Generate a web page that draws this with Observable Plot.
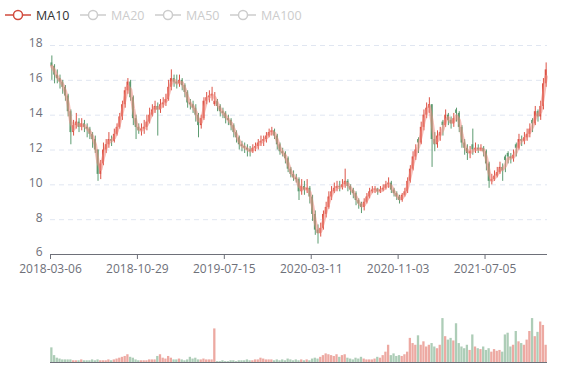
<!DOCTYPE html>
<html><head><meta charset="utf-8">
<script src="https://cdn.jsdelivr.net/npm/d3@7"></script>
<script src="https://cdn.jsdelivr.net/npm/@observablehq/plot@0.6"></script>
<style>
body{margin:0;background:#fff;font-family:"Open Sans",sans-serif;}
#wrap{position:relative;width:577px;height:380px;overflow:hidden;}
#legend{position:absolute;left:0;top:0;width:577px;height:30px;}
.lg{position:absolute;top:7px;height:16px;display:flex;align-items:center;font-size:12.5px;}
.lg svg{margin-right:5px;}
#main{position:absolute;left:0;top:30px;}
#vol{position:absolute;left:0;top:290px;}
</style></head><body>
<div id="wrap">
<div id="legend"></div>
<div id="main"></div>
<div id="vol"></div>
</div>
<script>
// ---- data ----
const seriesNames = ["MA10","MA20","MA50","MA100"];
const tickDates = ["2018-03-06","2018-10-29","2019-07-15","2020-03-11","2020-11-03","2021-07-05"];
const tickIndex = [0,160,320,480,640,800];
const yTicks = [6,8,10,12,14,16,18];

const opens = [17.0,16.8,16.3,16.1,15.9,15.6,15.1,14.2,13.0,13.4,
13.6,13.3,13.5,13.3,13.2,12.9,12.6,12.0,10.6,11.2,
12.0,12.3,12.6,12.5,12.9,13.3,13.9,14.6,15.4,15.9,
15.0,13.8,13.3,13.1,13.2,13.3,13.6,14.0,14.3,14.5,
14.3,14.6,14.7,14.9,15.6,16.1,15.9,15.8,16.0,15.7,
15.3,14.7,14.6,14.4,14.0,13.4,13.8,14.8,15.0,15.1,
14.6,14.8,14.5,14.2,14.1,13.8,13.7,13.4,13.0,12.7,
12.3,12.2,12.1,12.0,11.9,12.1,12.2,12.4,12.5,12.6,
12.8,13.0,13.1,12.8,12.3,11.9,11.8,11.5,10.9,10.6,
10.4,10.3,9.6,9.9,9.7,9.8,9.3,8.3,7.4,7.2,
7.5,8.3,8.7,9.3,9.6,9.8,9.9,9.85,10.0,10.2,
9.9,9.7,9.5,9.1,8.9,8.7,9.0,9.3,9.6,9.7,
9.75,9.6,9.7,9.8,10.0,10.1,9.7,9.5,9.3,9.1,
9.4,9.6,10.2,10.9,11.6,12.6,12.4,13.3,14.0,14.4,
14.6,12.6,12.3,12.8,13.6,13.4,14.0,13.7,13.5,14.3,
14.1,13.3,12.4,12.1,11.8,12.3,12.0,12.1,12.0,12.1,
11.9,11.2,10.2,10.3,10.5,10.7,11.0,11.6,11.8,11.6,
11.5,12.3,12.1,12.6,12.5,12.7,12.9,13.7,13.5,14.2,
13.9,14.5,15.8];

const closes = [16.8,16.3,16.1,15.9,15.6,15.1,14.2,13.0,13.4,13.6,
13.3,13.5,13.3,13.2,12.9,12.6,12.0,10.6,11.2,12.0,
12.3,12.6,12.5,12.9,13.3,13.9,14.6,15.4,15.9,15.0,
13.8,13.3,13.1,13.2,13.3,13.6,14.0,14.3,14.5,14.3,
14.6,14.7,14.9,15.6,16.1,15.9,15.8,16.0,15.7,15.3,
14.7,14.6,14.4,14.0,13.4,13.8,14.8,15.0,15.1,15.2,
14.8,14.5,14.2,14.1,13.8,13.7,13.4,13.0,12.7,12.3,
12.2,12.1,12.0,11.9,12.1,12.2,12.4,12.5,12.6,12.8,
13.0,13.1,12.8,12.3,11.9,11.8,11.5,10.9,10.6,10.4,
10.3,9.6,9.9,9.7,9.8,9.3,8.3,7.4,7.2,7.5,
8.3,8.7,9.3,9.6,9.8,9.9,9.85,10.0,10.2,9.9,
9.7,9.5,9.1,8.9,8.7,9.0,9.3,9.6,9.7,9.75,
9.6,9.7,9.8,10.0,10.1,9.7,9.5,9.3,9.1,9.4,
9.6,10.2,10.9,11.6,12.0,12.4,13.3,14.0,14.4,14.6,
12.6,12.3,12.8,13.0,13.4,14.0,13.7,13.5,13.8,14.1,
13.3,12.4,12.1,11.8,11.9,12.0,12.1,12.0,12.1,11.9,
11.2,10.2,10.3,10.5,10.7,11.0,10.8,11.4,11.6,11.5,
11.7,12.1,12.6,12.5,12.7,12.9,13.2,13.5,14.2,13.9,
14.5,15.8,16.6];

const highs = [17.4,16.9,16.6,16.3,16.0,15.7,15.2,14.3,13.7,14.1,
13.8,13.8,13.7,13.5,13.3,13.0,12.8,12.0,11.4,12.4,
12.6,13.0,12.8,13.2,13.5,14.1,14.8,15.6,16.1,16.0,
15.1,14.0,13.5,13.5,13.7,14.0,14.4,14.6,14.8,14.7,
14.9,15.0,15.2,16.0,16.6,16.3,16.3,16.3,16.1,15.8,
15.4,14.9,14.8,14.6,14.1,14.0,15.0,15.3,15.4,15.6,
15.3,14.9,14.6,14.4,14.2,14.0,13.8,13.5,13.1,12.8,
12.5,12.4,12.3,12.2,12.3,12.4,12.6,12.8,12.8,13.0,
13.2,13.3,13.2,12.9,12.4,12.1,11.9,11.6,11.0,10.8,
10.6,10.4,10.3,10.2,10.3,9.9,9.4,8.5,7.7,7.8,
8.5,9.0,9.6,9.9,10.1,10.2,10.2,10.3,10.9,10.3,
10.0,9.8,9.6,9.2,9.0,9.2,9.5,9.8,9.9,9.9,
9.8,9.9,10.0,10.2,10.4,10.2,9.8,9.6,9.4,9.5,
9.8,10.4,11.1,11.9,12.3,12.7,13.6,14.3,14.7,15.0,
14.6,13.0,13.1,13.3,13.7,14.3,14.1,13.9,14.1,14.4,
14.2,13.4,12.6,12.3,12.2,13.2,12.4,12.3,12.3,12.2,
12.0,11.3,10.6,10.8,11.0,11.3,11.2,11.7,11.9,11.8,
12.0,12.4,12.9,12.8,13.0,13.2,13.5,13.8,14.5,14.3,
14.8,16.1,17.0];

const lows = [16.0,15.8,15.8,15.5,15.2,14.8,13.9,12.3,12.8,13.2,
13.0,13.1,13.0,12.7,12.6,12.1,11.8,10.2,10.3,11.1,
11.8,12.1,12.2,12.4,12.8,13.2,13.7,14.4,15.2,14.8,
13.4,12.6,12.9,12.8,12.9,13.1,13.5,13.9,14.1,12.8,
14.1,14.4,14.5,14.8,15.4,15.6,15.5,15.6,15.4,15.0,
14.4,14.3,14.1,13.6,12.7,13.2,13.7,14.6,14.7,14.8,
14.5,14.2,13.9,13.8,13.5,13.4,13.1,12.7,12.4,12.0,
11.9,11.8,11.6,11.6,11.8,11.9,12.0,12.2,12.2,12.4,
12.7,12.8,12.6,12.0,11.7,11.6,11.2,10.7,10.4,10.2,
10.1,9.1,9.4,9.4,9.5,8.9,7.9,7.1,6.6,7.0,
7.4,8.1,8.6,9.1,9.5,9.6,9.6,9.7,9.8,9.6,
9.4,9.2,8.8,8.6,8.35,8.5,8.9,9.2,9.5,9.5,
9.4,9.5,9.6,9.7,9.8,9.5,9.3,9.1,8.9,9.0,
9.3,9.5,10.1,10.8,11.4,11.8,12.3,13.1,13.8,14.1,
11.0,11.9,12.1,12.5,12.8,13.3,13.4,13.2,13.3,13.6,
13.0,12.1,11.7,11.4,11.5,11.7,11.8,11.8,11.9,11.6,
10.8,9.8,10.0,10.2,10.4,10.6,10.2,10.7,11.2,11.2,
11.3,11.6,12.0,12.2,12.3,12.5,12.7,13.0,13.4,13.6,
13.7,14.3,15.6];

const volumes = [17,8,5,4,3,3,3,3,2,2,
2,3,2,2,2,3,2,3,2,2,
2,3,2,3,4,5,6,7,9,6,
5,3,2,2,2,2,3,3,3,7,
9,5,4,7,5,3,3,4,3,2,
3,6,4,5,3,3,4,3,3,3,
39,1,1,2,1,1,2,2,1,2,
2,2,3,2,2,3,3,5,4,3,
3,3,2,3,2,3,2,4,3,2,
3,2,3,2,3,2,4,5,4,6,
8,10,9,8,7,9,6,8,9,5,
4,3,5,4,6,4,3,3,3,4,
6,5,8,12,20,8,10,7,8,7,
9,12,28,22,20,31,20,24,18,20,
22,18,16,20,51,30,26,28,25,45,
22,18,16,20,14,32,18,16,15,18,
14,16,12,15,13,14,12,32,34,18,
20,36,24,22,20,26,36,51,30,35,
47,43,20];

// ---- styles ----
const RED = "#dc5346", GREEN = "#5c9b70", AXIS = "#6e7079";
const STEP = 5; // trading days per candle

const data = closes.map((c, i) => ({
  x: i * STEP + STEP / 2,
  x1: i * STEP + 0.8,
  x2: i * STEP + STEP - 0.8,
  vx1: i * STEP + 0.4,
  vx2: i * STEP + STEP - 0.4,
  open: opens[i], close: c, high: highs[i], low: lows[i], vol: volumes[i],
  col: c >= opens[i] ? RED : GREEN
}));

// legend
const legend = document.getElementById("legend");
seriesNames.forEach((name, k) => {
  const active = k === 0;
  const c = active ? "#d14a3d" : "#cccccc";
  const div = document.createElement("div");
  div.className = "lg";
  div.style.left = (5 + 75 * k) + "px";
  div.innerHTML = `<svg width="26" height="14"><line x1="0" y1="7" x2="26" y2="7" stroke="${c}" stroke-width="1.5"/><circle cx="13" cy="7" r="4.5" fill="#fff" stroke="${c}" stroke-width="1.5"/></svg><span style="color:${active ? '#333' : '#ccc'}">${name}</span>`;
  legend.appendChild(div);
});

const XDOM = [0, closes.length * STEP];

const main = Plot.plot({
  width: 577, height: 260,
  marginTop: 15, marginBottom: 36, marginLeft: 50, marginRight: 30,
  style: {fontFamily: "Open Sans, sans-serif", fontSize: "12px", color: AXIS, background: "transparent"},
  x: {domain: XDOM, axis: null},
  y: {domain: [6, 18], axis: null},
  color: {type: "identity"},
  marks: [
    Plot.ruleY(yTicks.filter(t => t > 6), {stroke: "#e0e6f1", strokeDasharray: "5,4"}),
    Plot.axisY(yTicks, {anchor: "left", tickSize: 0, tickPadding: 8, label: null, fill: AXIS, dy: -2}),
    Plot.ruleX(data, {x: "x", y1: "low", y2: "high", stroke: "col", strokeWidth: 1}),
    Plot.rect(data, {x1: "x1", x2: "x2", y1: "open", y2: "close", fill: "col"}),
    Plot.lineY(data, Plot.windowY({k: 2, anchor: "end"}, {x: "x", y: "close", stroke: "#ee8a80", strokeWidth: 3.5, strokeOpacity: 0.55, curve: "linear"})),
    Plot.ruleY([6], {stroke: AXIS, strokeWidth: 1}),
    Plot.axisX(tickIndex, {anchor: "bottom", tickSize: 5, tickPadding: 5, label: null, stroke: AXIS, fill: AXIS,
      tickFormat: d => tickDates[tickIndex.indexOf(d)]})
  ]
});
document.getElementById("main").appendChild(main);

const vol = Plot.plot({
  width: 577, height: 90,
  marginTop: 10, marginBottom: 18, marginLeft: 50, marginRight: 30,
  style: {background: "transparent"},
  x: {domain: XDOM, axis: null},
  y: {domain: [0, 72], axis: null},
  color: {type: "identity"},
  marks: [
    Plot.rect(data, {x1: "vx1", x2: "vx2", y1: 0, y2: "vol", fill: "col", fillOpacity: 0.5}),
    Plot.ruleY([0], {stroke: AXIS, strokeWidth: 1})
  ]
});
document.getElementById("vol").appendChild(vol);
</script>
</body></html>
